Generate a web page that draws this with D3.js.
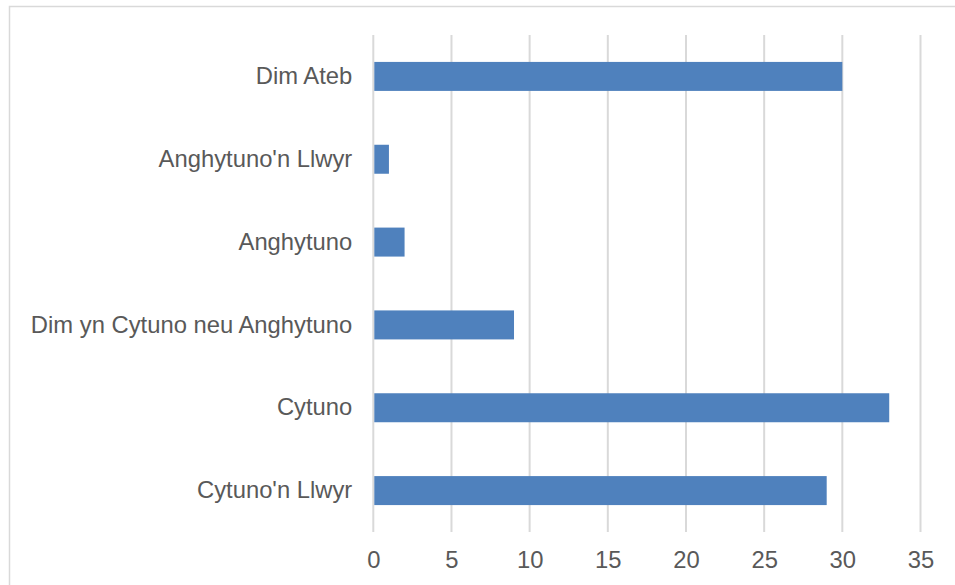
<!DOCTYPE html>
<html><head><meta charset="utf-8">
<script src="https://cdn.jsdelivr.net/npm/d3@7"></script>
<style>body{margin:0;background:#fff;}svg{display:block;}</style>
</head><body>
<svg id="c" width="955" height="585"></svg>
<script>
const categories = ["Dim Ateb","Anghytuno'n Llwyr","Anghytuno","Dim yn Cytuno neu Anghytuno","Cytuno","Cytuno'n Llwyr"];
const values = [30,1,2,9,33,29];
const xTicks = [0,5,10,15,20,25,30,35];

const svg = d3.select("#c");
const font = "'Liberation Sans', Arial, sans-serif";
svg.append("rect").attr("x",9.5).attr("y",6.5).attr("width",1000).attr("height",700)
  .attr("fill","#fff").attr("stroke","#d9d9d9").attr("stroke-width",1.5);

const x = d3.scaleLinear().domain([0,35]).range([373.3,920.5]);
const y = d3.scaleBand().domain(categories).range([35,532]).paddingInner(0.65).paddingOuter(0.325);

const g = svg.append("g");
g.selectAll("line.grid").data(xTicks).join("line").attr("class","grid")
  .attr("x1",d=>x(d)).attr("x2",d=>x(d)).attr("y1",35).attr("y2",532)
  .attr("stroke","#d9d9d9").attr("stroke-width",2);

g.selectAll("rect.bar").data(values).join("rect").attr("class","bar")
  .attr("x",x(0)+1).attr("y",(d,i)=>y(categories[i]))
  .attr("width",d=>x(d)-x(0)-1).attr("height",y.bandwidth())
  .attr("fill","#4f81bd");

const xAxis = d3.axisBottom(x).tickValues(xTicks).tickSize(0).tickPadding(0);
const ax = svg.append("g").attr("transform","translate(0,560)").call(xAxis);
ax.select(".domain").remove();
ax.selectAll("text").attr("dy","0.35em").attr("font-family",font).attr("font-size","23.8px").attr("fill","#595959");

const yAxis = d3.axisLeft(y).tickSize(0).tickPadding(21);
const ay = svg.append("g").attr("transform",`translate(${x(0)},0)`).call(yAxis);
ay.select(".domain").remove();
ay.selectAll("text").attr("font-family",font).attr("font-size","23.8px").attr("fill","#595959");
</script>
</body></html>
